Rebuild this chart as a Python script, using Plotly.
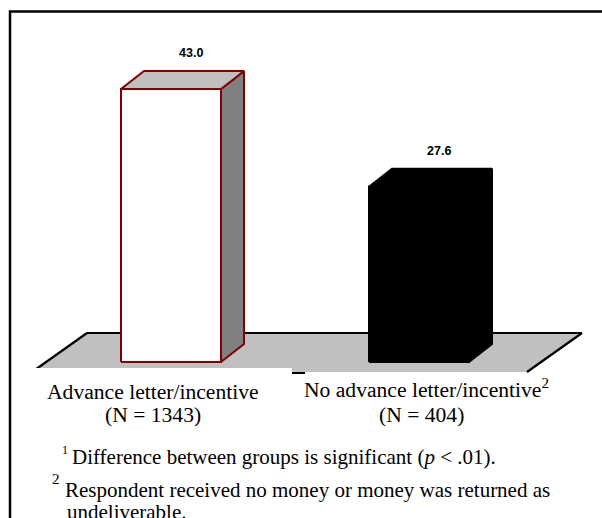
import plotly.graph_objects as go

# ---- data ----
categories = ["Advance letter/incentive", "No advance letter/incentive"]
cat_sup = ["", "2"]
cat_n = ["(N = 1343)", "(N = 404)"]
values = [43.0, 27.6]
value_labels = ["43.0", "27.6"]
footnotes = [
    ("1", "Difference between groups is significant (<i>p</i> < .01)."),
    ("2", "Respondent received no money or money was returned as"),
]
footnote_cont = "undeliverable."

W, H = 602, 518
PX_PER_CAT = 248.0      # pixel distance between category centres
PX_PER_UNIT = 6.35      # pixels per percentage point
X0_PX, BASE_PX = 171.0, 362.0

def pxx(x):
    return x / W

def pxy(y):
    return 1 - y / H

half_w = 50 / PX_PER_CAT
dx = 23 / PX_PER_CAT
dy = 18 / PX_PER_UNIT

styles = [
    dict(front="#FFFFFF", top="#C0C0C0", side="#808080", line="#800000"),
    dict(front="#000000", top="#000000", side="#000000", line="#000000"),
]

fig = go.Figure()

for i, v in enumerate(values):
    st = styles[i]
    xl, xr = i - half_w, i + half_w
    side_x = [xr, xr + dx, xr + dx, xr, xr]
    side_y = [0, dy, v + dy, v, 0]
    top_x = [xl, xr, xr + dx, xl + dx, xl]
    top_y = [v, v, v + dy, v + dy, v]
    front_x = [xl, xr, xr, xl, xl]
    front_y = [0, 0, v, v, 0]
    for xs, ys, col in [(side_x, side_y, st["side"]), (top_x, top_y, st["top"]), (front_x, front_y, st["front"])]:
        fig.add_trace(go.Scatter(x=xs, y=ys, mode="lines", fill="toself", fillcolor=col,
                                 line=dict(color=st["line"], width=2), hoverinfo="skip",
                                 showlegend=False))
    fig.add_annotation(x=i + 20 / PX_PER_CAT, y=v + dy + 18 / PX_PER_UNIT, xref="x", yref="y",
                       text="<b>%s</b>" % value_labels[i], showarrow=False,
                       font=dict(family="Liberation Sans, Arial", size=12.5, color="black"))

shapes = []
# floor
floor = [(87, 333), (582, 333), (527, 372), (32, 372)]
path = "M " + " L ".join("%f,%f" % (pxx(a), pxy(b)) for a, b in floor) + " Z"
shapes.append(dict(type="path", path=path, xref="paper", yref="paper", fillcolor="#C0C0C0",
                   line=dict(width=0), layer="below"))
for (a1, b1), (a2, b2) in [((87, 333), (582, 333)), ((87, 333), (32, 372)), ((582, 333), (527, 372))]:
    shapes.append(dict(type="line", xref="paper", yref="paper", x0=pxx(a1), y0=pxy(b1),
                       x1=pxx(a2), y1=pxy(b2), line=dict(color="black", width=2.2), layer="below"))
# white label boxes overlapping floor front
shapes.append(dict(type="rect", xref="paper", yref="paper", x0=pxx(12), x1=pxx(292), y0=pxy(368),
                   y1=pxy(385), fillcolor="white", line=dict(width=0), layer="below"))
shapes.append(dict(type="line", xref="paper", yref="paper", x0=pxx(292), x1=pxx(305), y0=pxy(373),
                   y1=pxy(373), line=dict(color="black", width=2), layer="below"))
# frame
shapes.append(dict(type="rect", xref="paper", yref="paper", x0=pxx(10), x1=pxx(700), y0=pxy(700),
                   y1=pxy(11.5), line=dict(color="black", width=2.5), fillcolor="rgba(0,0,0,0)"))

serif = "Liberation Serif, Times New Roman"
label_cx = [153, 421]
label_cy = [392, 388]
for i, c in enumerate(categories):
    txt = c
    if cat_sup[i]:
        txt += "<sup>%s</sup>" % cat_sup[i]
    fig.add_annotation(x=pxx(label_cx[i] + (5 if cat_sup[i] else 0)), y=pxy(label_cy[i]), xref="paper", yref="paper",
                       text=txt, showarrow=False, xanchor="center", yanchor="middle",
                       font=dict(family=serif, size=21.6, color="black"))
    fig.add_annotation(x=pxx(label_cx[i]), y=pxy(415), xref="paper", yref="paper",
                       text=cat_n[i], showarrow=False, xanchor="center", yanchor="middle",
                       font=dict(family=serif, size=21.6, color="black"))

# footnotes
fig.add_annotation(x=pxx(60), y=pxy(450), xref="paper", yref="paper", text=footnotes[0][0],
                   showarrow=False, xanchor="left", yanchor="middle",
                   font=dict(family=serif, size=12, color="black"))
fig.add_annotation(x=pxx(70), y=pxy(457), xref="paper", yref="paper", text=footnotes[0][1],
                   showarrow=False, xanchor="left", yanchor="middle",
                   font=dict(family=serif, size=21, color="black"))
fig.add_annotation(x=pxx(50), y=pxy(479), xref="paper", yref="paper", text=footnotes[1][0],
                   showarrow=False, xanchor="left", yanchor="middle",
                   font=dict(family=serif, size=15, color="black"))
fig.add_annotation(x=pxx(63), y=pxy(490), xref="paper", yref="paper", text=footnotes[1][1],
                   showarrow=False, xanchor="left", yanchor="middle",
                   font=dict(family=serif, size=21, color="black"))
fig.add_annotation(x=pxx(65), y=pxy(512), xref="paper", yref="paper", text=footnote_cont,
                   showarrow=False, xanchor="left", yanchor="middle",
                   font=dict(family=serif, size=21, color="black"))

x_lo = -X0_PX / PX_PER_CAT
x_hi = (W - X0_PX) / PX_PER_CAT
y_lo = (BASE_PX - H) / PX_PER_UNIT
y_hi = BASE_PX / PX_PER_UNIT

fig.update_layout(
    width=W, height=H, autosize=False,
    margin=dict(l=0, r=0, t=0, b=0, pad=0),
    paper_bgcolor="white", plot_bgcolor="white",
    xaxis=dict(range=[x_lo, x_hi], visible=False, fixedrange=True),
    yaxis=dict(range=[y_lo, y_hi], visible=False, fixedrange=True),
    shapes=shapes,
    showlegend=False,
)

fig.write_html("out.html", config=dict(displayModeBar=False),
               post_script="document.body.style.margin='0';document.body.style.overflow='hidden';")
